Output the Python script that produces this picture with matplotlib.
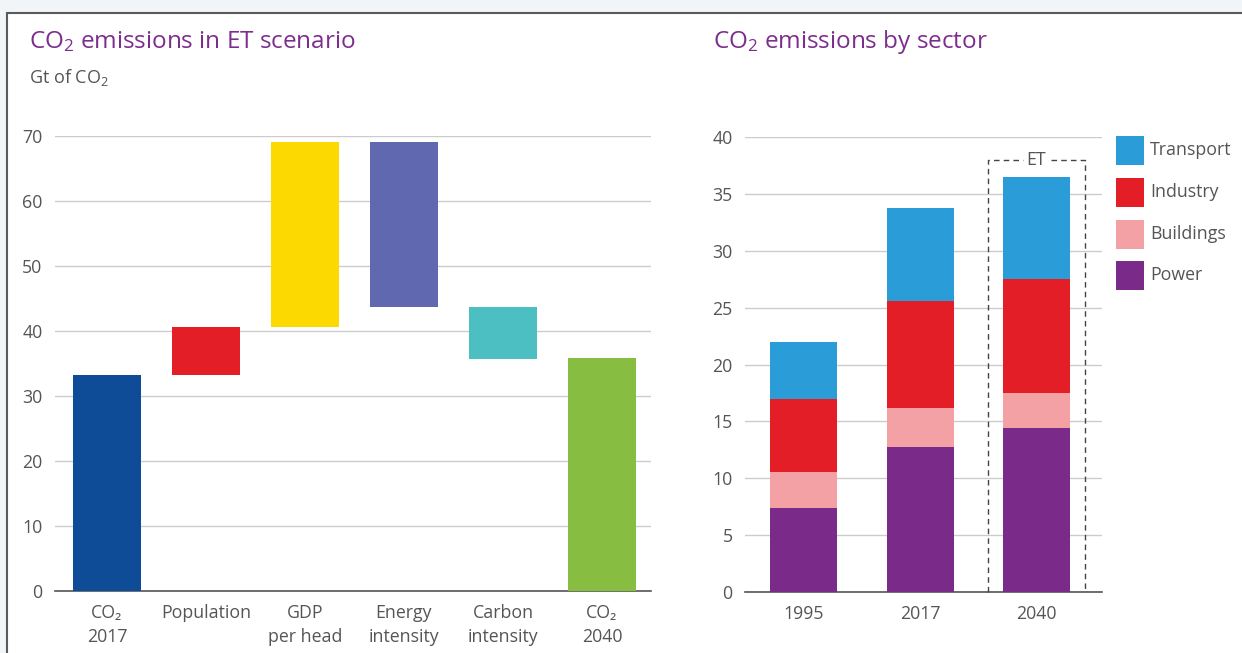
import matplotlib
matplotlib.use("Agg")
import matplotlib.pyplot as plt
from matplotlib.patches import Rectangle

FONT = 'Open Sans'
plt.rcParams['font.family'] = [FONT, 'DejaVu Sans']
plt.rcParams['mathtext.fontset'] = 'custom'
plt.rcParams['mathtext.rm'] = FONT
plt.rcParams['mathtext.it'] = FONT + ':italic'
plt.rcParams['mathtext.bf'] = FONT + ':bold'

# ---------------- data ----------------
wf_labels = ["CO₂\n2017", "Population", "GDP\nper head", "Energy\nintensity", "Carbon\nintensity", "CO₂\n2040"]
wf_bottom = [0, 33.2, 40.6, 43.7, 35.7, 0]
wf_top = [33.2, 40.6, 69.1, 69.1, 43.7, 35.8]
wf_colors = ["#0f4c97", "#e31e26", "#fcd900", "#6068b0", "#4bbfc1", "#87bd40"]
left_yticks = [0, 10, 20, 30, 40, 50, 60, 70]

years = ["1995", "2017", "2040"]
power = [7.4, 12.75, 14.4]
buildings = [3.15, 3.45, 3.1]
industry = [6.4, 9.4, 10.0]
transport = [5.0, 8.2, 9.0]
sectors = ["Transport", "Industry", "Buildings", "Power"]
sector_colors = {"Transport": "#2a9cd8", "Industry": "#e31e26", "Buildings": "#f4a1a6", "Power": "#7a2a89"}
right_yticks = [0, 5, 10, 15, 20, 25, 30, 35, 40]

TITLE_C = "#7d2d8d"
TXT_C = "#555555"
GRID_C = "#cccccc"
LBL = 12.8

W, H = 1242, 653
fig = plt.figure(figsize=(W / 100, H / 100), dpi=100)
fig.patch.set_facecolor("#f2f5f8")
fig.patches.append(Rectangle((7 / W, -0.05), 1.1, 1 - 13 / H + 0.05, transform=fig.transFigure,
                             facecolor="white", edgecolor="#5a5a5a", linewidth=1.5, zorder=-10))

def fx(px):
    return px / W

def fy(py):
    return 1 - py / H

# ---------------- left waterfall ----------------
axL = fig.add_axes([fx(55), fy(591), fx(651) - fx(55), fy(136) - fy(591)])
axL.set_zorder(2)
axL.set_facecolor("none")
xs = list(range(len(wf_labels)))
heights = [t - b for t, b in zip(wf_top, wf_bottom)]
axL.bar(xs, heights, bottom=wf_bottom, width=0.69, color=wf_colors, zorder=3)
axL.set_xlim(-0.525, 5.495)
axL.set_ylim(0, 70)
axL.set_yticks(left_yticks)
axL.set_xticks(xs)
axL.set_xticklabels(wf_labels, linespacing=1.45)
axL.yaxis.grid(True, color=GRID_C, linewidth=1)
axL.set_axisbelow(True)
for s in ["top", "right", "left"]:
    axL.spines[s].set_visible(False)
axL.spines["bottom"].set_color("#555555")
axL.spines["bottom"].set_linewidth(1.2)
axL.tick_params(axis="both", length=0, labelsize=LBL, labelcolor=TXT_C)
axL.tick_params(axis="y", pad=9)
axL.tick_params(axis="x", pad=9.5)

fig.text(fx(29), fy(42), r"CO$_\mathrm{2}$ emissions in ET scenario", color=TITLE_C,
         fontsize=17.5, va="center", ha="left")
fig.text(fx(29), fy(78), r"Gt of CO$_\mathrm{2}$", color=TXT_C, fontsize=13, va="center", ha="left")

# ---------------- right stacked ----------------
axR = fig.add_axes([fx(745), fy(592), fx(1102) - fx(745), fy(137) - fy(592)])
axR.set_zorder(2)
axR.set_facecolor("none")
xr = list(range(len(years)))
bottom = [0, 0, 0]
stack = [("Power", power), ("Buildings", buildings), ("Industry", industry), ("Transport", transport)]
for name, vals in stack:
    axR.bar(xr, vals, bottom=bottom, width=0.575, color=sector_colors[name], zorder=3)
    bottom = [b + v for b, v in zip(bottom, vals)]
axR.set_xlim(-0.502, 2.562)
axR.set_ylim(0, 40)
axR.set_yticks(right_yticks)
axR.set_xticks(xr)
axR.set_xticklabels(years)
axR.yaxis.grid(True, color=GRID_C, linewidth=1)
axR.set_axisbelow(True)
for s in ["top", "right", "left"]:
    axR.spines[s].set_visible(False)
axR.spines["bottom"].set_color("#555555")
axR.spines["bottom"].set_linewidth(1.2)
axR.tick_params(axis="both", length=0, labelsize=LBL, labelcolor=TXT_C)
axR.tick_params(axis="y", pad=9)
axR.tick_params(axis="x", pad=9.5)

# ET dashed box around the 2040 bar
et_x = 2
box_half = 0.415
top_val = 38.0
axR.plot([et_x - box_half, et_x - box_half, et_x - 0.12], [0, top_val, top_val],
         color="#444444", linestyle=(0, (4, 3)), linewidth=1, zorder=4, clip_on=False)
axR.plot([et_x + 0.12, et_x + box_half, et_x + box_half], [top_val, top_val, 0],
         color="#444444", linestyle=(0, (4, 3)), linewidth=1, zorder=4, clip_on=False)
axR.text(et_x, top_val, "ET", ha="center", va="center", fontsize=LBL, color=TXT_C, zorder=5)

fig.text(fx(713), fy(42), r"CO$_\mathrm{2}$ emissions by sector", color=TITLE_C,
         fontsize=17.5, va="center", ha="left")

# legend
leg_y = [150, 192, 234, 275]
for name, py in zip(sectors, leg_y):
    fig.patches.append(Rectangle((fx(1116), fy(py + 14.5)), fx(28), (29 / H),
                                 transform=fig.transFigure, facecolor=sector_colors[name],
                                 edgecolor="none", zorder=2))
    fig.text(fx(1150), fy(py), name, fontsize=LBL, color=TXT_C, va="center", ha="left")

fig.savefig("out.png", dpi=100, facecolor=fig.get_facecolor())
